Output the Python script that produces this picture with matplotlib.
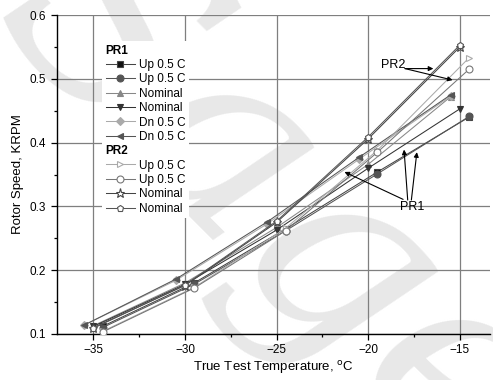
import numpy as np
import matplotlib.pyplot as plt
from matplotlib.lines import Line2D

plt.rcParams['font.family'] = ['Liberation Sans', 'DejaVu Sans']

# PR1 runs
pr1_up_sq_x = [-34.5, -29.5, -24.5, -19.5, -14.5]
pr1_up_sq_y = [0.112, 0.180, 0.265, 0.354, 0.440]
pr1_up_ci_x = [-34.5, -29.5, -24.5, -19.5, -14.5]
pr1_up_ci_y = [0.110, 0.178, 0.262, 0.351, 0.441]
pr1_nom_ut_x = [-35.0, -30.0, -25.0, -20.0, -15.5]
pr1_nom_ut_y = [0.113, 0.180, 0.267, 0.366, 0.472]
pr1_nom_dt_x = [-35.0, -30.0, -25.0, -20.0, -15.0]
pr1_nom_dt_y = [0.112, 0.178, 0.263, 0.360, 0.453]
pr1_dn_di_x = [-35.5, -30.5, -25.5, -20.5, -15.5]
pr1_dn_di_y = [0.114, 0.184, 0.273, 0.374, 0.473]
pr1_dn_lt_x = [-35.5, -30.5, -25.5, -20.5, -15.5]
pr1_dn_lt_y = [0.114, 0.186, 0.276, 0.377, 0.475]

# PR2 runs
pr2_up_rt_x = [-34.5, -29.5, -24.5, -19.5, -14.5]
pr2_up_rt_y = [0.104, 0.173, 0.266, 0.388, 0.533]
pr2_up_ci_x = [-34.5, -29.5, -24.5, -19.5, -14.5]
pr2_up_ci_y = [0.103, 0.172, 0.262, 0.385, 0.515]
pr2_nom_st_x = [-35.0, -30.0, -25.0, -20.0, -15.0]
pr2_nom_st_y = [0.110, 0.176, 0.275, 0.406, 0.550]
pr2_nom_pe_x = [-35.0, -30.0, -25.0, -20.0, -15.0]
pr2_nom_pe_y = [0.109, 0.177, 0.277, 0.409, 0.553]

fig = plt.figure(figsize=(4.93, 3.80), dpi=100)

# faint background lettering
fig.text(0.55, 0.45, 'Sage', fontsize=190, color='#e8e8e8', rotation=-45,
         ha='center', va='center', family='DejaVu Serif', style='italic',
         zorder=0)

ax = fig.add_axes([56.7 / 493, 1 - 334 / 380, 433.3 / 493, 319 / 380])
ax.set_zorder(1)
ax.patch.set_alpha(0)

lw = 0.75
ms = 5
series = [
    (pr1_up_sq_x, pr1_up_sq_y, 's', '#111111', '#444444', 'Up 0.5 C'),
    (pr1_up_ci_x, pr1_up_ci_y, 'o', '#555555', '#555555', 'Up 0.5 C'),
    (pr1_nom_ut_x, pr1_nom_ut_y, '^', '#888888', '#888888', 'Nominal'),
    (pr1_nom_dt_x, pr1_nom_dt_y, 'v', '#333333', '#333333', 'Nominal'),
    (pr1_dn_di_x, pr1_dn_di_y, 'D', '#aaaaaa', '#aaaaaa', 'Dn 0.5 C'),
    (pr1_dn_lt_x, pr1_dn_lt_y, '<', '#555555', '#555555', 'Dn 0.5 C'),
    (pr2_up_rt_x, pr2_up_rt_y, '>', 'white', '#aaaaaa', 'Up 0.5 C'),
    (pr2_up_ci_x, pr2_up_ci_y, 'o', 'white', '#777777', 'Up 0.5 C'),
    (pr2_nom_st_x, pr2_nom_st_y, '*', 'white', '#444444', 'Nominal'),
    (pr2_nom_pe_x, pr2_nom_pe_y, 'p', 'white', '#555555', 'Nominal'),
]

handles = []
for x, y, mk, fc, lc, lab in series:
    msz = ms * 0.8 if mk == 'D' else (ms * 1.3 if mk == '*' else ms)
    ax.plot(x, y, color=lc, lw=lw, marker=mk, ms=msz, mfc=fc, mec=lc,
            mew=0.8, zorder=3)
    handles.append(Line2D([], [], color=lc, lw=lw, marker=mk, ms=msz,
                          mfc=fc, mec=lc, mew=0.8))

blank = Line2D([], [], lw=0, marker=None)
leg_handles = [blank] + handles[:6] + [blank] + handles[6:]
leg_labels = ['PR1'] + [s[5] for s in series[:6]] + ['PR2'] + [s[5] for s in series[6:]]

hl, hp, fs = 2.5, 0.3, 8.5
leg = ax.legend(leg_handles, leg_labels, loc='upper left',
                bbox_to_anchor=(0.105, 0.918), fontsize=fs, frameon=True,
                fancybox=False, edgecolor='none', facecolor='white',
                framealpha=1, handlelength=hl, handletextpad=hp,
                labelspacing=0.2, borderpad=0.3, borderaxespad=0)
shift = (hl + hp) * fs * 100 / 72
for t in leg.get_texts():
    if t.get_text() in ('PR1', 'PR2'):
        t.set_fontweight('bold')
        t.set_x(-shift)
leg.set_zorder(4)

# annotations
arrow = dict(arrowstyle='-|>', color='black', lw=0.8, mutation_scale=7,
             shrinkA=0, shrinkB=0)
ax.text(-18.65, 0.522, 'PR2', fontsize=9, ha='center', va='center', zorder=5)
ax.annotate('', xy=(-16.45, 0.516), xytext=(-18.0, 0.516), arrowprops=arrow, zorder=5)
ax.annotate('', xy=(-15.4, 0.498), xytext=(-18.0, 0.516), arrowprops=arrow, zorder=5)
ax.text(-17.6, 0.299, 'PR1', fontsize=9, ha='center', va='center', zorder=5)
ax.annotate('', xy=(-18.05, 0.389), xytext=(-17.85, 0.310), arrowprops=arrow, zorder=5)
ax.annotate('', xy=(-17.35, 0.385), xytext=(-17.65, 0.310), arrowprops=arrow, zorder=5)
ax.annotate('', xy=(-21.3, 0.354), xytext=(-18.1, 0.311), arrowprops=arrow, zorder=5)

ax.set_xlim(-37, -13.36)
ax.set_ylim(0.1, 0.6)
ax.set_xticks([-35, -30, -25, -20, -15])
ax.set_xticks(np.arange(-32.5, -13, 5), minor=True)
ax.set_yticks([0.1, 0.2, 0.3, 0.4, 0.5, 0.6])
ax.set_yticks(np.arange(0.15, 0.6, 0.1), minor=True)
ax.set_yticklabels(['0.1', '0.2', '0.3', '0.4', '0.5', '0.6'])
ax.tick_params(which='major', direction='out', length=4, width=0.9, labelsize=8.5, colors='black')
ax.tick_params(which='minor', direction='out', length=2.5, width=0.9)
ax.grid(True, which='major', color='#7f7f7f', lw=0.9)
ax.set_axisbelow(True)
for s in ['top', 'right']:
    ax.spines[s].set_visible(False)
for s in ['left', 'bottom']:
    ax.spines[s].set_linewidth(1.0)

ax.set_xlabel('True Test Temperature, $^{\\rm o}$C', fontsize=9.5, labelpad=2)
ax.set_ylabel('Rotor Speed, KRPM', fontsize=9.5, labelpad=4)

fig.savefig('out.png', dpi=100)
